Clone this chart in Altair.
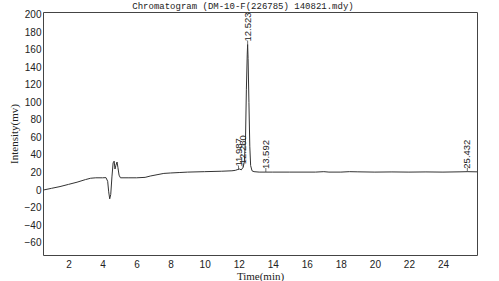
import altair as alt
import pandas as pd

# Chromatogram trace (time in min, intensity in mV)
time_min = [0.5, 1.0, 1.5, 2.0, 2.5, 3.0, 3.3, 3.6, 4.0, 4.2, 4.3, 4.36, 4.42, 4.48,
            4.55, 4.62, 4.68, 4.73, 4.78, 4.85, 4.9, 4.97, 5.05, 5.5, 6.0, 6.5, 6.8,
            7.2, 7.6, 8.0, 8.5, 9.0, 10.0, 11.0, 11.6, 11.8, 11.95, 12.05, 12.15, 12.26,
            12.33, 12.4, 12.45, 12.5, 12.523, 12.55, 12.6, 12.65, 12.7, 12.78, 12.9,
            13.2, 13.6, 14.0, 15.0, 16.5, 17.0, 17.3, 18.0, 18.5, 19.0, 20.0, 21.0,
            22.0, 23.0, 24.0, 25.0, 25.432, 26.0]
intensity = [0, 2, 4, 6.5, 9, 12, 13.5, 14, 14, 14.2, 10, -2, -10, -5,
             15, 31, 33, 24, 28, 32, 26, 17, 14, 14, 14, 14.5, 16,
             17.5, 19, 19.5, 20, 20.5, 21, 21.5, 22, 22.5, 23.5, 24, 23, 26,
             32, 60, 115, 155, 166, 150, 100, 50, 28, 22, 21,
             20.5, 20.5, 20.5, 20.5, 20.5, 21, 20.5, 20.5, 21, 20.8, 20.5, 20.7,
             20.5, 20.7, 20.5, 20.8, 21, 20.8]

# Peak annotations
peak_time = [11.987, 12.260, 12.523, 13.592, 25.432]
peak_label = ["11.987", "12.260", "12.523", "13.592", "25.432"]
peak_level = [23.5, 26, 166, 20.5, 21]

title_text = "Chromatogram (DM-10-F(226785) 140821.mdy)"
x_ticks = [2, 4, 6, 8, 10, 12, 14, 16, 18, 20, 22, 24]
y_ticks = [-60, -40, -20, 0, 20, 40, 60, 80, 100, 120, 140, 160, 180, 200]

trace = pd.DataFrame({"t": time_min, "v": intensity})
peaks = pd.DataFrame({"t": peak_time, "v": peak_level, "lab": peak_label})

xs = alt.Scale(domain=[0.5, 26.0], nice=False, zero=False)
ys = alt.Scale(domain=[-74, 203], nice=False, zero=False)

ax_x = alt.Axis(values=x_ticks, title="Time(min)", ticks=False, domain=False,
                grid=False, labelPadding=4, labelFont="Liberation Sans",
                labelFontSize=10, labelColor="#222222", labelOverlap=False,
                titleFont="Liberation Serif", titleFontSize=11,
                titleFontWeight="normal", titleColor="#222222", titlePadding=1)
ax_y = alt.Axis(values=y_ticks, title="Intensity(mv)", ticks=False, domain=False,
                grid=False, labelPadding=2, labelFont="Liberation Sans",
                labelFontSize=10, labelColor="#222222", labelOverlap=False,
                titleFont="Liberation Serif", titleFontSize=11,
                titleFontWeight="normal", titleColor="#222222", titlePadding=5)

line = alt.Chart(trace).mark_line(color="#333333", strokeWidth=1).encode(
    x=alt.X("t:Q", scale=xs, axis=ax_x),
    y=alt.Y("v:Q", scale=ys, axis=ax_y),
)

labels = alt.Chart(peaks).mark_text(
    angle=270, align="left", baseline="middle", dx=3,
    font="Liberation Sans", fontSize=9.5, color="#222222"
).encode(x=alt.X("t:Q", scale=xs, axis=ax_x), y=alt.Y("v:Q", scale=ys, axis=ax_y),
         text="lab:N")

marks = alt.Chart(peaks).mark_tick(
    orient="vertical", size=4, thickness=1, color="#333333", yOffset=-2
).encode(x=alt.X("t:Q", scale=xs, axis=ax_x), y=alt.Y("v:Q", scale=ys, axis=ax_y))

title = alt.Chart(pd.DataFrame({"txt": [title_text]})).mark_text(
    font="Liberation Mono", fontSize=9, align="center", baseline="alphabetic",
    color="#222222"
).encode(text="txt:N", x=alt.value(200), y=alt.value(-3))

chart = alt.layer(line, marks, labels, title).properties(
    width=434, height=243,
    autosize=alt.AutoSizeParams(type="none"),
    padding={"left": 43, "top": 12, "right": 22, "bottom": 26},
    background="white",
).configure_view(stroke="#444444", strokeWidth=1)

chart.save("out.html", embed_options={"renderer": "svg", "actions": False})
